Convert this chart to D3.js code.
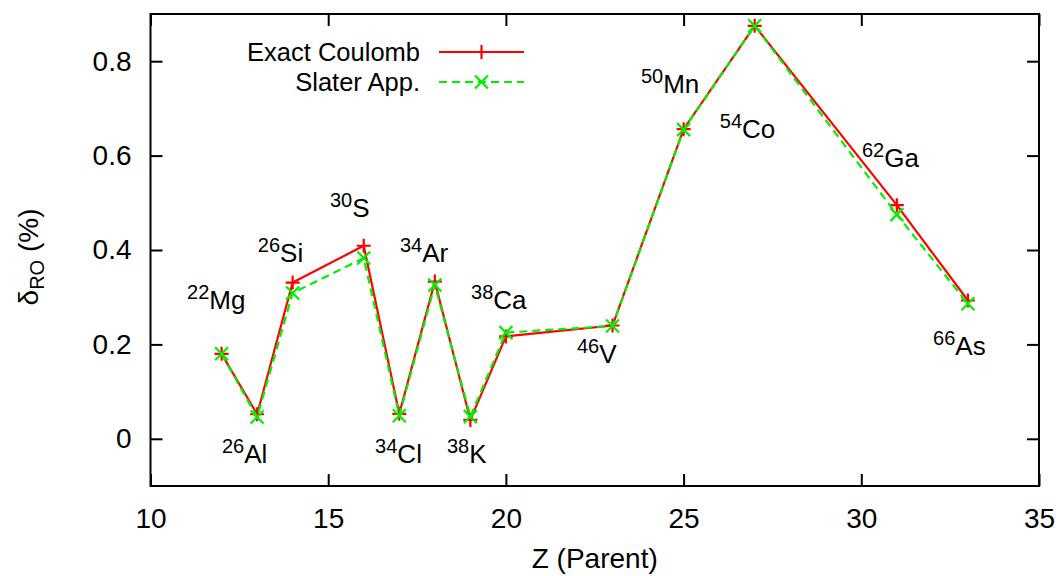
<!DOCTYPE html>
<meta charset="utf-8">
<style>
body { margin: 0; background: #fff; }
svg { font-family: "Liberation Sans", Arial, sans-serif; }
.axis path { display: none; }
.axis line { stroke: #000; stroke-width: 2px; }
.axis text { font-size: 28px; fill: #000; }
</style>
<svg width="1061" height="576"></svg>
<script src="https://cdn.jsdelivr.net/npm/d3@7"></script>
<script>

// data
var zParent = [12, 13, 14, 16, 17, 18, 19, 20, 23, 25, 27, 31, 33];
var exactCoulomb = [0.180, 0.052, 0.331, 0.409, 0.053, 0.333, 0.040, 0.217, 0.240, 0.656, 0.875, 0.495, 0.293];
var slaterApp = [0.180, 0.046, 0.309, 0.383, 0.049, 0.326, 0.047, 0.225, 0.239, 0.655, 0.875, 0.475, 0.286];

var xTicks = [10, 15, 20, 25, 30, 35];
var yTicks = [0, 0.2, 0.4, 0.6, 0.8];

// nucleus labels: mass number, symbol, anchor (Z, delta) of left edge / baseline
var isoMass = ["22", "26", "26", "30", "34", "34", "38", "38", "46", "50", "54", "62", "66"];
var isoName = ["Mg", "Al", "Si", "S", "Cl", "Ar", "K", "Ca", "V", "Mn", "Co", "Ga", "As"];
var isoZ = [11.03, 12.01, 13.02, 15.05, 16.32, 17.02, 18.34, 19.02, 22.0, 23.8, 26.02, 30.02, 32.02];
var isoY = [0.275, -0.051, 0.375, 0.47, -0.051, 0.375, -0.051, 0.275, 0.161, 0.733, 0.638, 0.576, 0.178];

var seriesNames = ["Exact Coulomb", "Slater App."];

var svg = d3.select("svg"),
    margin = {top: 14, right: 22, bottom: 90, left: 150.5},
    width = svg.attr("width") - margin.left - margin.right,
    height = svg.attr("height") - margin.top - margin.bottom,
    g = svg.append("g").attr("transform", "translate(" + margin.left + "," + margin.top + ")");

var x = d3.scaleLinear().domain([10, 35]).range([0, width]),
    y = d3.scaleLinear().domain([-0.1, 0.9]).range([height, 0]);

var fmt = function(d) { return d === 0 ? "0" : d3.format(".1f")(d); };

// axes with inward ticks, mirrored on top/right
g.append("g")
    .attr("class", "axis")
    .attr("transform", "translate(0," + height + ")")
    .call(d3.axisBottom(x).tickValues(xTicks).tickSize(-12).tickPadding(22));

g.append("g")
    .attr("class", "axis")
    .call(d3.axisTop(x).tickValues(xTicks).tickSize(-12).tickFormat(""));

g.append("g")
    .attr("class", "axis")
    .call(d3.axisLeft(y).tickValues(yTicks).tickSize(-12).tickPadding(19).tickFormat(fmt));

g.append("g")
    .attr("class", "axis")
    .attr("transform", "translate(" + width + ",0)")
    .call(d3.axisRight(y).tickValues(yTicks).tickSize(-12).tickFormat(""));

g.append("rect")
    .attr("width", width)
    .attr("height", height)
    .attr("fill", "none")
    .attr("stroke", "#000")
    .attr("stroke-width", 2);

// axis titles
svg.append("text")
    .attr("x", margin.left + width / 2)
    .attr("y", 568)
    .attr("text-anchor", "middle")
    .style("font-size", "28px")
    .text("Z (Parent)");

var yl = svg.append("text")
    .attr("transform", "translate(38,257) rotate(-90)")
    .attr("text-anchor", "middle")
    .style("font-size", "28px");
yl.append("tspan").text("δ");
yl.append("tspan").attr("dy", 6).style("font-size", "20px").text("RO");
yl.append("tspan").attr("dy", -6).text(" (%)");

// marker paths
function plus(cx, cy, s) {
  return "M" + (cx - s) + "," + cy + "H" + (cx + s) + "M" + cx + "," + (cy - s) + "V" + (cy + s);
}
function cross(cx, cy, s) {
  return "M" + (cx - s) + "," + (cy - s) + "L" + (cx + s) + "," + (cy + s) +
         "M" + (cx - s) + "," + (cy + s) + "L" + (cx + s) + "," + (cy - s);
}

var series = [
  {name: seriesNames[0], values: exactCoulomb, color: "#ff0000", dash: null, marker: plus, size: 7},
  {name: seriesNames[1], values: slaterApp, color: "#00f000", dash: "8,5", marker: cross, size: 6.5}
];

var line = d3.line()
    .x(function(d) { return x(d.z); })
    .y(function(d) { return y(d.v); });

series.forEach(function(s) {
  var pts = zParent.map(function(z, i) { return {z: z, v: s.values[i]}; });
  g.append("path")
      .datum(pts)
      .attr("d", line)
      .attr("fill", "none")
      .attr("stroke", s.color)
      .attr("stroke-width", 2.2)
      .attr("stroke-dasharray", s.dash);
  g.selectAll(null)
      .data(pts)
    .enter().append("path")
      .attr("d", function(d) { return s.marker(x(d.z), y(d.v), s.size); })
      .attr("stroke", s.color)
      .attr("stroke-width", 2.2);
});

// legend
series.forEach(function(s, i) {
  var ly = 52 + i * 30;
  svg.append("text")
      .attr("x", 420)
      .attr("y", ly + 9)
      .attr("text-anchor", "end")
      .style("font-size", "25.5px")
      .text(s.name);
  svg.append("line")
      .attr("x1", 439).attr("x2", 524)
      .attr("y1", ly).attr("y2", ly)
      .attr("stroke", s.color)
      .attr("stroke-width", 2.2)
      .attr("stroke-dasharray", s.dash);
  svg.append("path")
      .attr("d", s.marker(481.5, ly, s.size))
      .attr("stroke", s.color)
      .attr("stroke-width", 2.2);
});

// nucleus labels
isoName.forEach(function(n, i) {
  var t = g.append("text")
      .attr("x", x(isoZ[i]))
      .attr("y", y(isoY[i]))
      .style("font-size", "26px");
  t.append("tspan").attr("dy", -10).style("font-size", "20px").text(isoMass[i]);
  t.append("tspan").attr("dy", 10).text(n);
});

</script>
